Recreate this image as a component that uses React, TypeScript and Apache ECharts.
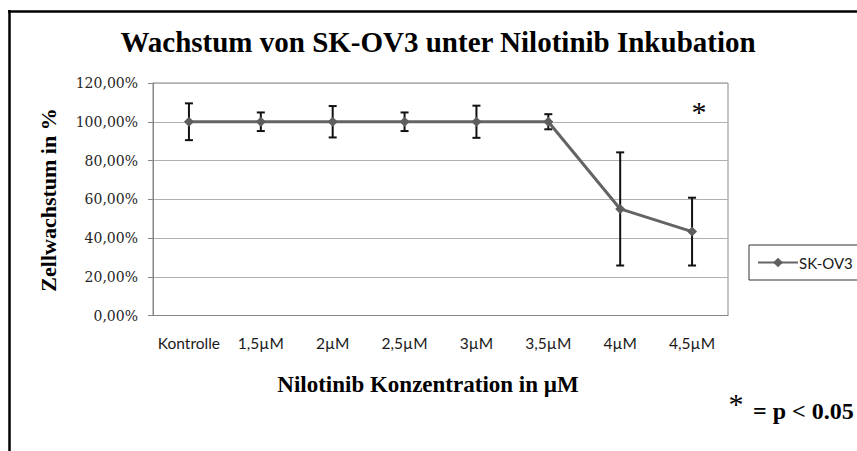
import React, { useEffect, useRef } from "react";
import * as echarts from "echarts";

const categories = ["Kontrolle", "1,5µM", "2µM", "2,5µM", "3µM", "3,5µM", "4µM", "4,5µM"];
const growth = [100, 100, 100, 100, 100, 100, 55.0, 43.3];
const errors = [9.5, 4.8, 8.1, 4.8, 8.3, 3.9, 29.2, 17.5];
const yTicks = { min: 0, max: 120, interval: 20 };

const SERIF = "'Liberation Serif', 'Times New Roman', serif";
const SANS = "Lato, 'Open Sans', sans-serif";

export default function App() {
  const ref = useRef<HTMLDivElement>(null);
  useEffect(() => {
    if (!ref.current) return;
    const chart = echarts.init(ref.current, null, { renderer: "svg" });
    const errData = categories.map((_, i) => [i, growth[i] - errors[i], growth[i] + errors[i]]);
    chart.setOption({
      animation: false,
      backgroundColor: "#ffffff",
      grid: {
        left: 153,
        right: 129,
        top: 83,
        bottom: 135.5,
        containLabel: false,
        outerBoundsMode: "none",
        show: true,
        borderColor: "#868686",
        borderWidth: 1,
      },
      xAxis: {
        type: "category",
        data: categories,
        boundaryGap: true,
        axisLine: { show: true, lineStyle: { color: "#868686", width: 1 } },
        axisTick: { show: false },
        axisLabel: { fontFamily: SANS, fontSize: 15.5, color: "#1a1a1a", margin: 19, interval: 0 },
        splitLine: { show: false },
      },
      yAxis: {
        type: "value",
        min: yTicks.min,
        max: yTicks.max,
        interval: yTicks.interval,
        axisLine: { show: true, lineStyle: { color: "#868686", width: 1 } },
        axisTick: { show: true, inside: false, length: 5, lineStyle: { color: "#868686" } },
        axisLabel: {
          fontFamily: "'DejaVu Serif', serif",
          fontSize: 14,
          color: "#262626",
          margin: 15,
          formatter: (v: number) => v.toFixed(2).replace(".", ",") + "%",
        },
        splitLine: { show: true, lineStyle: { color: "#b0b0b0", width: 1 } },
      },
      legend: {
        show: true,
        data: ["SK-OV3"],
        left: 749,
        top: 245,
        orient: "vertical",
        padding: [10, 9, 10, 8],
        itemWidth: 40,
        itemHeight: 12,
        itemGap: 0,
        borderColor: "#333333",
        borderWidth: 1,
        borderRadius: 0,
        textStyle: { fontFamily: SANS, fontSize: 15, color: "#1a1a1a", padding: [0, 0, 0, -4] },
      },
      series: [
        {
          name: "errors",
          type: "custom",
          z: 1,
          data: errData,
          encode: { x: 0, y: [1, 2] },
          renderItem: (_params: any, api: any) => {
            const x = api.value(0);
            const lo = api.coord([x, api.value(1)]);
            const hi = api.coord([x, api.value(2)]);
            const cap = 4;
            const style = { stroke: "#111111", lineWidth: 2 };
            return {
              type: "group",
              children: [
                { type: "line", shape: { x1: lo[0], y1: lo[1], x2: hi[0], y2: hi[1] }, style },
                { type: "line", shape: { x1: lo[0] - cap, y1: lo[1], x2: lo[0] + cap, y2: lo[1] }, style },
                { type: "line", shape: { x1: hi[0] - cap, y1: hi[1], x2: hi[0] + cap, y2: hi[1] }, style },
              ],
            };
          },
        },
        {
          name: "SK-OV3",
          type: "line",
          z: 3,
          data: growth,
          symbol: "diamond",
          symbolSize: 10,
          itemStyle: { color: "#5e5e5e" },
          lineStyle: { color: "#646464", width: 3 },
        },
      ],
      graphic: [
        { type: "line", shape: { x1: 8, y1: 11.5, x2: 857, y2: 11.5 }, style: { stroke: "#000", lineWidth: 2.5 } },
        { type: "line", shape: { x1: 9.5, y1: 10, x2: 9.5, y2: 451 }, style: { stroke: "#000", lineWidth: 2.5 } },
        {
          type: "text",
          x: 438,
          y: 42,
          style: {
            text: "Wachstum von SK-OV3 unter Nilotinib Inkubation",
            font: `bold 29px ${SERIF}`,
            fill: "#000",
            textAlign: "center",
            textVerticalAlign: "middle",
          },
        },
        {
          type: "text",
          x: 428,
          y: 384,
          style: {
            text: "Nilotinib Konzentration in µM",
            font: `bold 23px ${SERIF}`,
            fill: "#000",
            textAlign: "center",
            textVerticalAlign: "middle",
          },
        },
        {
          type: "text",
          x: 48,
          y: 200,
          rotation: Math.PI / 2,
          style: {
            text: "Zellwachstum in %",
            font: `bold 22px ${SERIF}`,
            fill: "#000",
            textAlign: "center",
            textVerticalAlign: "middle",
          },
        },
        {
          type: "text",
          x: 699,
          y: 111,
          style: { text: "*", font: `30px ${SERIF}`, fill: "#000", textAlign: "center", textVerticalAlign: "middle" },
        },
        {
          type: "text",
          x: 736,
          y: 403,
          style: { text: "*", font: `30px ${SERIF}`, fill: "#000", textAlign: "center", textVerticalAlign: "middle" },
        },
        {
          type: "text",
          x: 753,
          y: 411,
          style: { text: "= p < 0.05", font: `bold 24px ${SERIF}`, fill: "#000", textAlign: "left", textVerticalAlign: "middle" },
        },
      ],
    });
    return () => chart.dispose();
  }, []);
  return <div ref={ref} style={{ position: "absolute", left: 0, top: 0, width: 857, height: 451 }} />;
}
